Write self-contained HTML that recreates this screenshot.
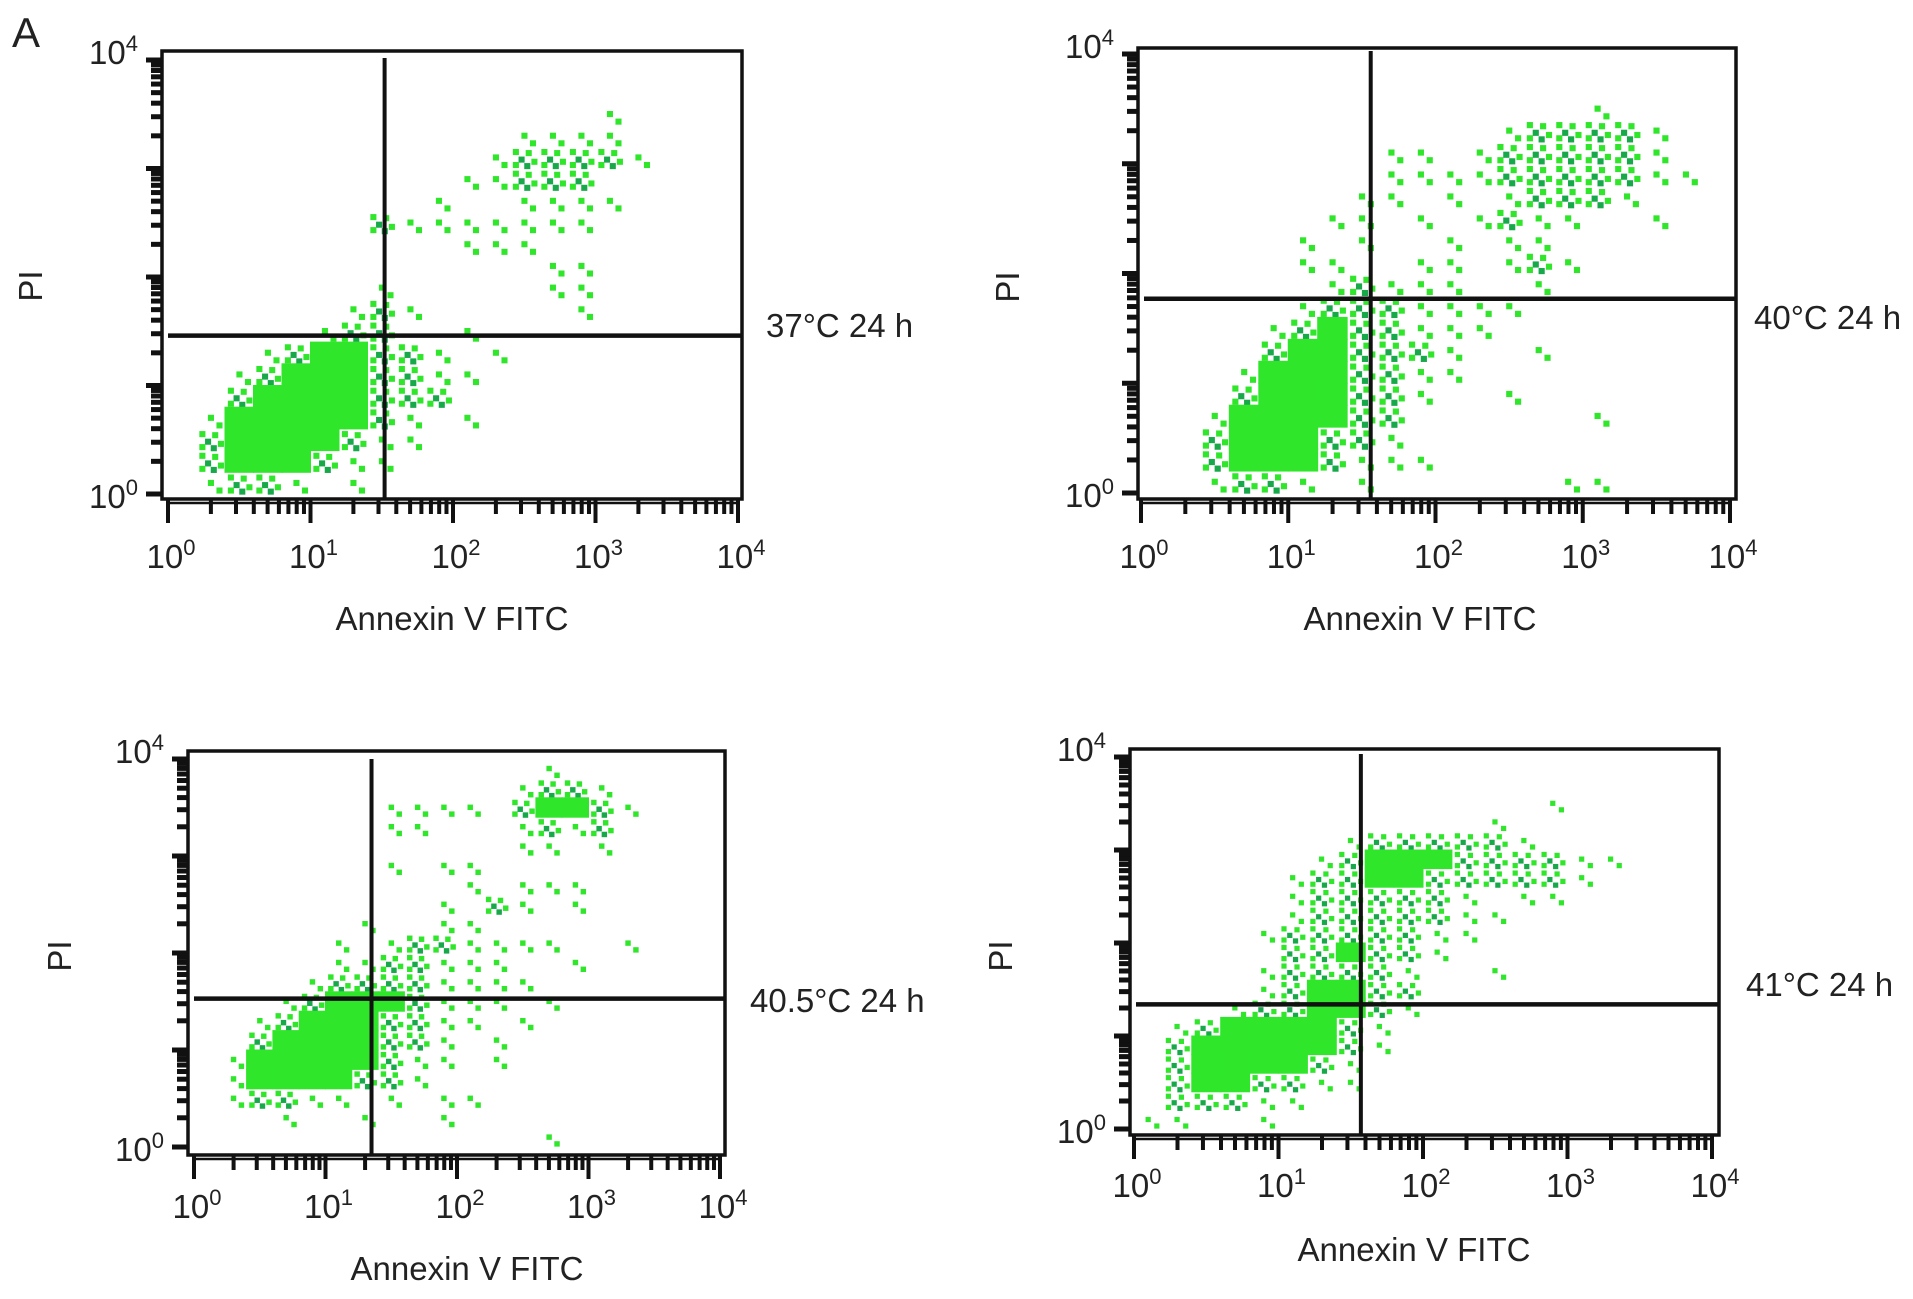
<!DOCTYPE html>
<html><head><meta charset="utf-8">
<style>
html,body{margin:0;padding:0;background:#fff;}
svg{display:block;}
text{font-family:"Liberation Sans",Arial,sans-serif;fill:#222;}
</style></head>
<body>
<svg id="fig" width="1913" height="1299" viewBox="0 0 1913 1299" xmlns="http://www.w3.org/2000/svg">
<text x="12" y="47" font-size="42">A</text>
</svg>
<script>
// ---- data: density grids (20 x 20 cells, 0.2 decade each; rows top->bottom = PI 4..0, cols = Annexin 0..4)
// ' ' empty, '.' sparse, ':' medium, '#' dense
const decadeTicks = [0, 1, 2, 3, 4];
const panelNames = ["37°C 24 h", "40°C 24 h", "40.5°C 24 h", "41°C 24 h"];
const gateX = [1.52, 1.56, 1.35, 1.57];
const gateY = [1.46, 1.77, 1.53, 1.34];
const grid37 = [
"","",
"               .",
"            ....",
"           .::::.",
"          ..:::",
"         .  ....",
"       :.......",
"          ...",
"             ..",
"       .     ..",
"      .:.     .",
"     .::  .",
"   .:##::. .",
"  .:###::..",
"  :####:::",
" .#####:. .",
" :####:..",
" :###:..",
" .::. ."
];
const grid40 = [
"","",
"               .",
"            .::::.",
"        .. .:::::.",
"        ....:::::..",
"       .. . .:::.",
"      .. . .:..  .",
"     . .  . ..",
"     ..  .. .:.",
"      .:...  .",
"     .:::....",
"    .:#::...",
"    :##:::.  .",
"   .###::..",
"   :###::.  .",
"  .####::      .",
"  :###::.",
"  :###:...",
"  .::. .      ..",
];
const grid405 = [
"             .",
"            .::.",
"       .... :##:.",
"       ..   .:.:",
"            .. .",
"       . ..",
"          . ...",
"         . :. .",
"      .  ..",
"     . .::....  .",
"     ..::...  .",
"    .::::....",
"   .:###:... .",
"  .:###::.. .",
"  :####::. .",
" .#####:.. .",
" .####::.",
" .::.. . ..",
"   .  .  .",
"             ."
];
const grid41 = [
"","",
"              .",
"            .",
"       .:::::.",
"      .:###::::..",
"     .::##:::::.",
"     .:::::. ..",
"     .:::::..",
"    .:::::..",
"     ::#::.",
"    .::::.  .",
"    .:##::",
"   .::##:.",
" .:####:.",
" :#####:.",
" :####:.",
" :##::..",
" :::..",
"..  ."
];
const grids = [grid37, grid40, grid405, grid41];

// ---- layout (pixel geometry, not data)
const panels = [
 {box:[162,51,742,499], x0:168, x4:738, y0:494, y4:60, lab:556, title:[452,618], pi:[31,286], cond:[766,337], vTop:58},
 {box:[1138,48,1736,499], x0:1141, x4:1730, y0:493, y4:54, lab:556, title:[1420,618], pi:[1008,287], cond:[1754,329], vTop:51},
 {box:[188,751,725,1155], x0:194, x4:720, y0:1147, y4:759, lab:1206, title:[467,1268], pi:[60,956], cond:[750,1012], vTop:759},
 {box:[1130,749,1719,1135], x0:1134, x4:1712, y0:1129, y4:757, lab:1185, title:[1414,1249], pi:[1001,956], cond:[1746,996], vTop:754}
];
const NS = "http://www.w3.org/2000/svg";
const svg = document.getElementById("fig");
function mk(tag, attrs, parent){
  const e = document.createElementNS(NS, tag);
  for (const k in attrs) e.setAttribute(k, attrs[k]);
  (parent||svg).appendChild(e);
  return e;
}
const GREEN = "#2fe62a", DARK = "#17a84a";

panels.forEach((p, pi) => {
  const g = mk("g", {});
  
  
  const X = v => p.x0 + (p.x4 - p.x0) * v / 4;
  const Y = v => p.y0 - (p.y0 - p.y4) * v / 4;
  const [l, t, r, b] = p.box;

  const dots = mk("g", {}, g);
  
  
  grids[pi].forEach((row, j) => {
    const s = row.padEnd(20, " ");
    for (let i = 0; i < 20; i++) {
      const c = s[i];
      if (c === " ") continue;
      const cx0 = X(0.2*i), cx1 = X(0.2*i+0.2);
      const cy0 = Y(4-0.2*j), cy1 = Y(4-0.2*(j+1));
      const w = cx1 - cx0, h = cy1 - cy0;
      if (c === "#") {
        const rc = mk("rect", {x:cx0-0.5, y:cy0-0.5, width:w+1, height:h+1, fill:GREEN}, dots);
        
        
      } else {
        const pts = c === ":" ? [[0.1,0.1],[0.55,0.15],[0.3,0.45],[0.75,0.55],[0.1,0.7],[0.5,0.75]] : [[0.4,0.35],[0.7,0.7]];
        const sz = Math.min(w, h) * 0.28;
        pts.forEach((q, k) => {
          const rc = mk("rect", {x:cx0+q[0]*w, y:cy0+q[1]*h, width:sz, height:sz, fill:(k%3===2?DARK:GREEN)}, dots);
          
          
        });
      }
    }
  });

  const bx = mk("rect", {x:l, y:t, width:r-l, height:b-t, fill:"none", stroke:"#111", "stroke-width":3.5}, g);
  
  

  const hg = mk("line", {x1:l+6, x2:r, y1:Y(gateY[pi]), y2:Y(gateY[pi]), stroke:"#111", "stroke-width":4.5}, g);
  
  
  const vg = mk("line", {x1:X(gateX[pi]), x2:X(gateX[pi]), y1:p.vTop, y2:b, stroke:"#111", "stroke-width":4}, g);
  
  

  const tk = mk("g", {stroke:"#111"}, g);
  
  
  for (let d = 0; d < 4; d++) {
    for (let m = 1; m <= 9; m++) {
      const v = d + Math.log10(m);
      const major = m === 1;
      mk("line", {x1:l-(major?16:11), x2:l, y1:Y(v), y2:Y(v), "stroke-width":5}, tk);
      mk("line", {x1:X(v), x2:X(v), y1:b, y2:b+(major?24:15), "stroke-width":4}, tk);
    }
  }
  mk("line", {x1:l-16, x2:l, y1:Y(4), y2:Y(4), "stroke-width":5}, tk);
  mk("line", {x1:X(4), x2:X(4), y1:b, y2:b+24, "stroke-width":4}, tk);
  mk("line", {x1:X(0), x2:X(4), y1:b+4, y2:b+4, "stroke-width":2.5}, tk);

  decadeTicks.forEach(d => {
    const tx = mk("text", {x:X(d)+3, y:p.lab+12, "font-size":33, "text-anchor":"middle"}, g);
    
    
    tx.innerHTML = '10<tspan dy="-13" font-size="22">' + d + '</tspan>';
  });
  [0, 4].forEach(d => {
    const ty = mk("text", {x:l-24, y:Y(d)+ (d===4?4:14), "font-size":33, "text-anchor":"end"}, g);
    
    
    ty.innerHTML = '10<tspan dy="-13" font-size="22">' + d + '</tspan>';
  });

  const xt = mk("text", {x:p.title[0], y:p.title[1]+12, "font-size":33, "text-anchor":"middle"}, g);
  
  
  xt.textContent = "Annexin V FITC";

  const yt = mk("text", {x:p.pi[0]+11, y:p.pi[1], "font-size":33, "text-anchor":"middle", transform:"rotate(-90 "+(p.pi[0]+11)+" "+p.pi[1]+")"}, g);
  
  
  yt.textContent = "PI";

  const ct = mk("text", {x:p.cond[0], y:p.cond[1], "font-size":33}, g);
  
  
  ct.textContent = panelNames[pi];
});
</script>
</body></html>
